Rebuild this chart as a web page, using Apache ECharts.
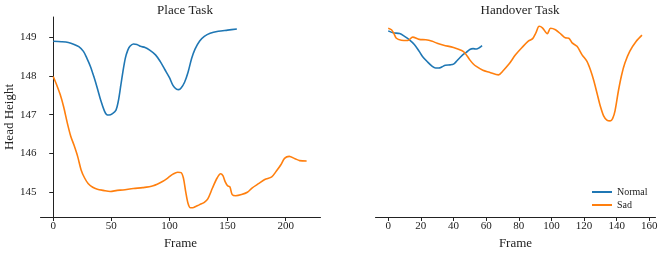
<!DOCTYPE html>
<html>
<head>
<meta charset="utf-8">
<script src="https://cdn.jsdelivr.net/npm/echarts@6/dist/echarts.min.js"></script>
<style>html,body{margin:0;padding:0;background:#fff;}#c{width:664px;height:253px;}</style>
</head>
<body>
<div id="c"></div>
<script>
// ---- data ----
const titles = ['Place Task', 'Handover Task'];
const seriesNames = ['Normal', 'Sad'];
const yTicks = [145, 146, 147, 148, 149];
const placeXTicks = [0, 50, 100, 150, 200];
const handoverXTicks = [0, 20, 40, 60, 80, 100, 120, 140, 160];

const placeNormalFrames = [0, 7, 13, 18, 22, 26, 29, 32, 35, 38, 41, 44, 46, 48, 51, 54, 56, 58, 60, 62, 64, 66, 69, 72, 75, 79, 83, 88, 92, 96, 100, 103, 106, 108, 110, 113, 116, 119, 122, 126, 130, 135, 142, 150, 158];
const placeNormalValues = [148.90, 148.89, 148.87, 148.82, 148.76, 148.64, 148.46, 148.25, 147.98, 147.68, 147.36, 147.10, 147.00, 146.99, 147.03, 147.12, 147.35, 147.73, 148.12, 148.46, 148.66, 148.77, 148.83, 148.82, 148.77, 148.74, 148.67, 148.55, 148.38, 148.17, 147.96, 147.76, 147.66, 147.65, 147.69, 147.84, 148.10, 148.45, 148.70, 148.91, 149.03, 149.11, 149.16, 149.19, 149.22];

const placeSadFrames = [0, 3, 6, 9, 12, 15, 18, 21, 24, 27, 30, 34, 38, 43, 49, 55, 60, 69, 77, 86, 94, 99, 103, 107, 110, 112, 114, 116, 118, 120, 123, 126, 130, 133, 137, 141, 144, 146, 148, 150, 152, 154, 157, 162, 167, 171, 177, 182, 188, 192, 196, 199, 203, 208, 212, 218];
const placeSadValues = [147.99, 147.77, 147.52, 147.20, 146.80, 146.45, 146.20, 145.92, 145.57, 145.36, 145.22, 145.12, 145.07, 145.04, 145.01, 145.04, 145.05, 145.09, 145.11, 145.16, 145.27, 145.37, 145.46, 145.51, 145.50, 145.36, 145.00, 144.70, 144.59, 144.59, 144.63, 144.67, 144.73, 144.82, 145.10, 145.36, 145.47, 145.42, 145.26, 145.16, 145.13, 144.93, 144.90, 144.93, 144.99, 145.10, 145.22, 145.32, 145.39, 145.54, 145.71, 145.87, 145.92, 145.86, 145.81, 145.80];

const handoverNormalFrames = [0, 3, 7, 10, 13, 16, 19, 21, 24, 27, 29, 31, 33, 35, 38, 40, 42, 44, 46, 48, 50, 52, 54, 56, 57.5];
const handoverNormalValues = [149.17, 149.12, 149.10, 149.03, 148.94, 148.82, 148.64, 148.51, 148.37, 148.25, 148.21, 148.21, 148.24, 148.28, 148.29, 148.31, 148.39, 148.48, 148.56, 148.62, 148.69, 148.71, 148.70, 148.74, 148.79];

const handoverSadFrames = [0, 2, 3.5, 5, 8, 12, 15, 19, 23, 27, 30, 34, 40, 45, 47, 50, 52, 54, 58, 62, 67.6, 70, 74, 78, 82, 86, 88.5, 90.5, 92.5, 94.5, 97.5, 99.5, 102.5, 106, 108.5, 110.7, 112.7, 115.7, 118.8, 121.8, 124, 126, 128, 130, 132, 134, 136, 137.5, 139, 141, 143, 145, 148, 152, 155.5];
const handoverSadValues = [149.24, 149.20, 149.10, 148.98, 148.93, 148.92, 149.01, 148.95, 148.94, 148.90, 148.85, 148.80, 148.74, 148.66, 148.60, 148.42, 148.32, 148.25, 148.15, 148.10, 148.03, 148.12, 148.31, 148.55, 148.74, 148.91, 148.97, 149.12, 149.29, 149.25, 149.10, 149.24, 149.20, 149.08, 148.99, 148.98, 148.86, 148.77, 148.55, 148.38, 148.15, 147.88, 147.55, 147.22, 146.97, 146.86, 146.84, 146.90, 147.10, 147.60, 148.02, 148.33, 148.64, 148.90, 149.06];

// ---- chart ----
const toPairs = (xs, ys) => xs.map((x, i) => [x, ys[i]]);
const FONT = 'Liberation Serif';
const txt = '#222';
const blue = '#1f77b4', orange = '#ff7f0e';

const yMin = 144.35, yMax = 149.53;

function xAxis(idx, min, max, ticks) {
  return {
    type: 'value', gridIndex: idx, min: min, max: max,
    name: 'Frame', nameLocation: 'middle', nameGap: 20,
    nameTextStyle: { fontFamily: FONT, fontSize: 13, color: txt },
    axisLine: { show: true, onZero: false, lineStyle: { color: '#222', width: 1 } },
    axisTick: { show: true, length: 4, customValues: ticks, lineStyle: { color: '#222' } },
    axisLabel: { customValues: ticks, fontFamily: FONT, fontSize: 11, color: txt, margin: 4 },
    splitLine: { show: false }
  };
}

function yAxis(idx, visible) {
  return {
    type: 'value', gridIndex: idx, min: yMin, max: yMax,
    name: visible ? 'Head Height' : '', nameLocation: 'middle', nameGap: 21,
    nameTextStyle: { fontFamily: FONT, fontSize: 13, color: txt },
    axisLine: { show: visible, lineStyle: { color: '#222', width: 1 } },
    axisTick: { show: visible, length: 4, customValues: yTicks, lineStyle: { color: '#222' } },
    axisLabel: { show: visible, customValues: yTicks, fontFamily: FONT, fontSize: 11, color: txt, margin: 4 },
    splitLine: { show: false }
  };
}

const lineSeries = (name, xi, data, color) => ({
  name: name, type: 'line', xAxisIndex: xi, yAxisIndex: xi, data: data,
  showSymbol: false, symbol: 'none', smooth: 0.3,
  lineStyle: { color: color, width: 1.6 }, itemStyle: { color: color },
  animation: false
});

const chart = echarts.init(document.getElementById('c'), null, { renderer: 'canvas' });
chart.setOption({
  animation: false,
  backgroundColor: '#fff',
  title: [
    { text: titles[0], left: 180, top: -1, textAlign: 'center', textStyle: { fontFamily: FONT, fontSize: 13, fontWeight: 'normal', color: txt } },
    { text: titles[1], left: 515, top: -1, textAlign: 'center', textStyle: { fontFamily: FONT, fontSize: 13, fontWeight: 'normal', color: txt } }
  ],
  grid: [
    { left: 40.5, top: 17, width: 280, height: 200, outerBoundsMode: 'none', containLabel: false },
    { left: 375.5, top: 17, width: 280, height: 200, outerBoundsMode: 'none', containLabel: false }
  ],
  xAxis: [xAxis(0, -10.95, 229.95, placeXTicks), xAxis(1, -7.8, 163.8, handoverXTicks)],
  yAxis: [yAxis(0, true), yAxis(1, false)],
  legend: {
    data: seriesNames, orient: 'vertical', left: 592, top: 187, padding: 0,
    icon: 'rect', itemWidth: 20, itemHeight: 2, itemGap: 3,
    textStyle: { fontFamily: FONT, fontSize: 10, color: txt }
  },
  series: [
    lineSeries(seriesNames[0], 0, toPairs(placeNormalFrames, placeNormalValues), blue),
    lineSeries(seriesNames[1], 0, toPairs(placeSadFrames, placeSadValues), orange),
    lineSeries(seriesNames[0], 1, toPairs(handoverNormalFrames, handoverNormalValues), blue),
    lineSeries(seriesNames[1], 1, toPairs(handoverSadFrames, handoverSadValues), orange)
  ]
});
</script>
</body>
</html>
